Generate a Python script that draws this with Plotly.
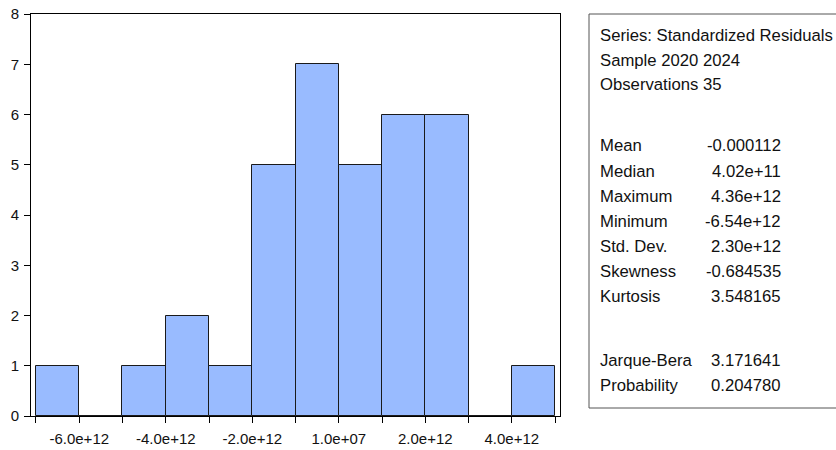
import plotly.graph_objects as go

# Histogram of standardized residuals (bin edges and counts per bin)
bin_edges = [-7e12, -6e12, -5e12, -4e12, -3e12, -2e12, -1e12, 0.0,
             1e12, 2e12, 3e12, 4e12, 5e12]
counts = [1, 0, 1, 2, 1, 5, 7, 5, 6, 6, 0, 1]
tick_labels = ["", "-6.0e+12", "", "-4.0e+12", "", "-2.0e+12", "",
               "1.0e+07", "", "2.0e+12", "", "4.0e+12", ""]
y_ticks = [0, 1, 2, 3, 4, 5, 6, 7, 8]

# Descriptive statistics shown beside the histogram
header_lines = ["Series: Standardized Residuals", "Sample 2020 2024", "Observations 35"]
stat_names = ["Mean", "Median", "Maximum", "Minimum", "Std. Dev.", "Skewness", "Kurtosis"]
stat_values = ["-0.000112", "4.02e+11", "4.36e+12", "-6.54e+12", "2.30e+12", "-0.684535", "3.548165"]
test_names = ["Jarque-Bera", "Probability"]
test_values = ["3.171641", "0.204780"]

W, H = 836, 450
ML, MR, MT, MB = 31, 276, 14, 34
PW, PH = W - ML - MR, H - MT - MB

def px_x(x):
    return (x - ML) / PW

def px_y(y):
    return (H - MB - y) / PH

centers = [(a + b) / 2 for a, b in zip(bin_edges[:-1], bin_edges[1:])]
widths = [b - a for a, b in zip(bin_edges[:-1], bin_edges[1:])]

fig = go.Figure()
fig.add_trace(go.Bar(
    x=centers, y=counts, width=widths,
    marker=dict(color="#99BBFF", line=dict(color="#1a1a1a", width=1)),
    hoverinfo="x+y", showlegend=False,
))

span = bin_edges[-1] - bin_edges[0]
pad = span * 5 / 520

fig.update_layout(
    width=W, height=H,
    margin=dict(l=ML, r=MR, t=MT, b=MB, pad=0, autoexpand=False),
    paper_bgcolor="white", plot_bgcolor="white",
    font=dict(family="Liberation Sans, Arial, sans-serif", color="#111111"),
    bargap=0,
    xaxis=dict(
        range=[bin_edges[0] - pad, bin_edges[-1] + pad],
        tickmode="array", tickvals=bin_edges, ticktext=tick_labels,
        ticks="outside", ticklen=6, tickcolor="black", tickwidth=1,
        showline=True, linecolor="black", linewidth=1, mirror=True,
        showgrid=False, zeroline=False, automargin=False,
        tickfont=dict(size=15), ticklabelstandoff=3,
    ),
    yaxis=dict(
        range=[0, 8], tickmode="array", tickvals=y_ticks,
        ticks="outside", ticklen=6, tickcolor="black", tickwidth=1,
        showline=True, linecolor="black", linewidth=1, mirror=True,
        showgrid=False, zeroline=False, automargin=False,
        tickfont=dict(size=15), ticklabelstandoff=2,
    ),
)

# Statistics panel frame
fig.add_shape(type="rect", xref="paper", yref="paper",
              x0=px_x(589), x1=px_x(900), y0=px_y(408), y1=px_y(14),
              line=dict(color="#555555", width=1), fillcolor="rgba(0,0,0,0)")

label_x = px_x(598)
value_x = px_x(783)
font_panel = dict(size=16.7, color="#111111")

def add_text(text, x, y, anchor):
    fig.add_annotation(text=text, x=x, y=px_y(y), xref="paper", yref="paper",
                       xanchor=anchor, yanchor="middle", showarrow=False,
                       font=font_panel)

header_y = [36, 60, 84]
for text, y in zip(header_lines, header_y):
    add_text(text, label_x, y, "left")

stat_y = [146, 171, 196, 221, 246, 271, 296]
for name, val, y in zip(stat_names, stat_values, stat_y):
    add_text(name, label_x, y, "left")
    add_text(val, value_x, y, "right")

test_y = [360, 385]
for name, val, y in zip(test_names, test_values, test_y):
    add_text(name, label_x, y, "left")
    add_text(val, value_x, y, "right")

fig.write_html("out.html")
